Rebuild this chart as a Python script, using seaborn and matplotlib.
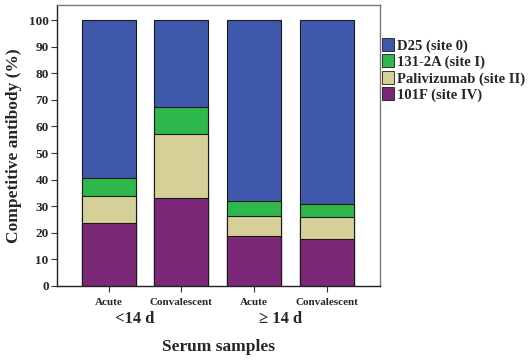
import numpy as np
import pandas as pd
import matplotlib
matplotlib.use('Agg')
import matplotlib.pyplot as plt
import seaborn as sns
from matplotlib.patches import Patch
from matplotlib.transforms import blended_transform_factory

samples = ['Acute', 'Convalescent', 'Acute ', 'Convalescent ']
sample_labels = ['Acute', 'Convalescent', 'Acute', 'Convalescent']
groups = ['<14 d', '<14 d', '\u2265 14 d', '\u2265 14 d']

ab_101f = [23.7, 33.0, 18.8, 17.8]      # site IV
ab_paliv = [10.3, 24.0, 7.4, 8.0]       # site II
ab_131 = [6.5, 10.3, 5.6, 5.2]          # site I
ab_d25 = [100 - a - b - c for a, b, c in zip(ab_101f, ab_paliv, ab_131)]  # site 0, rest to 100

series_names = ['D25 (site 0)', '131-2A (site I)', 'Palivizumab (site II)', '101F (site IV)']
colors = ['#3E58AC', '#2EB84C', '#D5CF98', '#7B2878']

df = pd.DataFrame({'sample': samples, 'group': groups,
                   '101F': ab_101f, 'Palivizumab': ab_paliv,
                   '131-2A': ab_131, 'D25': ab_d25})
# cumulative tops, drawn from the tallest down
df['top_101F'] = df['101F']
df['top_Paliv'] = df['top_101F'] + df['Palivizumab']
df['top_131'] = df['top_Paliv'] + df['131-2A']
df['top_D25'] = df['top_131'] + df['D25']

sns.set_style('white')
plt.rcParams['font.family'] = ['Liberation Serif', 'DejaVu Serif']
plt.rcParams['font.weight'] = 'bold'

fig = plt.figure(figsize=(5.29, 3.61), dpi=100)
ax = fig.add_axes([0.1078, 0.2078, 0.6105, 0.778])

for col, c in zip(['top_D25', 'top_131', 'top_Paliv', 'top_101F'], colors):
    sns.barplot(data=df, x='sample', y=col, color=c, width=0.74,
                edgecolor='#1a1a1a', linewidth=0.8, saturation=1, ax=ax)

ax.set_ylim(0, 105.6)
ax.set_xlim(-0.71, 3.73)
ax.set_yticks(np.arange(0, 101, 10))
ax.set_yticklabels([str(v) for v in range(0, 101, 10)], fontsize=9.5, fontweight='bold')
ax.set_xticks(range(len(samples)))
ax.set_xticklabels(sample_labels, fontsize=8, fontweight='bold')
ax.tick_params(axis='both', direction='out', length=4, width=0.8, color='#333333',
               left=True, bottom=True, pad=2)
ax.tick_params(axis='x', pad=5)

for side in ['left', 'bottom']:
    ax.spines[side].set_color('#222222')
    ax.spines[side].set_linewidth(1.0)
for side in ['top', 'right']:
    ax.spines[side].set_color('#777777')
    ax.spines[side].set_linewidth(1.0)

ax.set_xlabel('')
ax.set_ylabel('Competitive antibody (%)', fontsize=12.5, fontweight='bold', labelpad=5)

# group labels under the category ticks
trans = blended_transform_factory(ax.transData, fig.transFigure)
for g in dict.fromkeys(groups):
    idx = [i for i, gg in enumerate(groups) if gg == g]
    ax.text(np.mean(idx) - 0.14, 1 - 319 / 361, g, transform=trans, ha='center', va='center',
            fontsize=12, fontweight='bold')

fig.text((57 + 380) / 2 / 529, 1 - 347 / 361, 'Serum samples', ha='center', va='center',
         fontsize=12.5, fontweight='bold')

handles = [Patch(facecolor=c, edgecolor='#1a1a1a', linewidth=0.6) for c in colors]
fig.legend(handles, series_names, loc='upper left', bbox_to_anchor=(382 / 529, 1 - 38 / 361),
           frameon=False, handlelength=0.8, handleheight=1.0,
           handletextpad=0.25, labelspacing=0.12, borderpad=0, borderaxespad=0,
           prop={'weight': 'bold', 'size': 10.5})

fig.savefig('out.png', dpi=100)
